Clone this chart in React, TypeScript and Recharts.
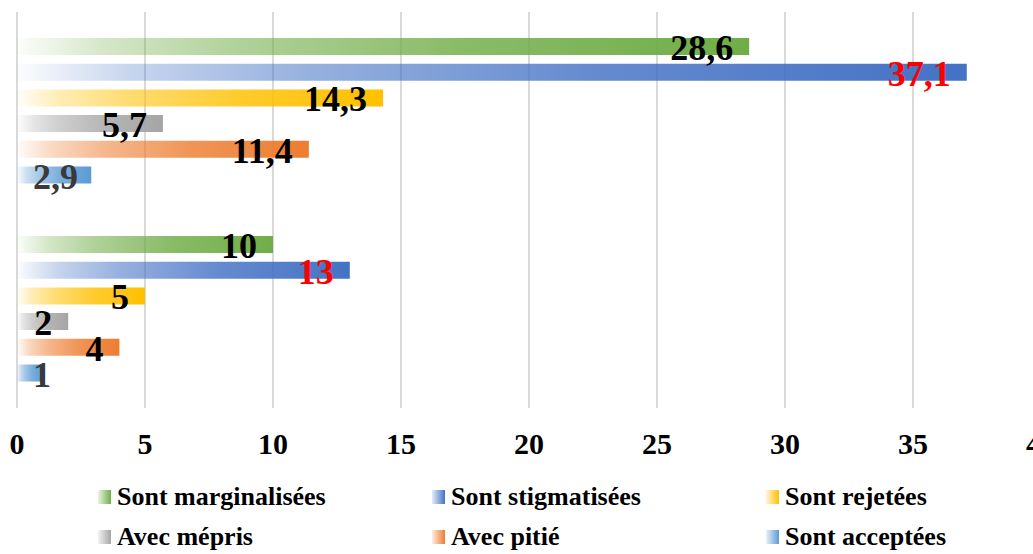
import React from 'react';
import { BarChart, Bar, XAxis, YAxis, CartesianGrid, LabelList } from 'recharts';

const categories = ['Pourcentage', 'Effectif'];
const marginalisees = [28.6, 10];
const stigmatisees = [37.1, 13];
const rejetees = [14.3, 5];
const mepris = [5.7, 2];
const pitie = [11.4, 4];
const acceptees = [2.9, 1];
const xTicks = [0, 5, 10, 15, 20, 25, 30, 35, 40];

const FONT = '"Liberation Serif", "Times New Roman", serif';

const series = [
  { key: 'marg', name: 'Sont marginalisées', values: marginalisees, color: '#70AD47', labelColor: '#000000' },
  { key: 'stig', name: 'Sont stigmatisées', values: stigmatisees, color: '#4472C4', labelColor: '#FF0000' },
  { key: 'rej', name: 'Sont rejetées', values: rejetees, color: '#FFC000', labelColor: '#000000' },
  { key: 'mep', name: 'Avec mépris', values: mepris, color: '#A5A5A5', labelColor: '#000000' },
  { key: 'pit', name: 'Avec pitié', values: pitie, color: '#ED7D31', labelColor: '#000000' },
  { key: 'acc', name: 'Sont acceptées', values: acceptees, color: '#5B9BD5', labelColor: '#3a3a3a' },
];

const data = categories.map((name, i) => {
  const row: Record<string, string | number> = { name };
  series.forEach((s) => {
    row[s.key] = s.values[i];
  });
  return row;
});

const fmt = (v: number) => String(v).replace('.', ',');

// rough width of Times bold digits/comma at 36px
const textWidth = (s: string) => s.split('').reduce((w, c) => w + (c === ',' ? 9 : 18), 0);

const makeLabel = (color: string) => (props: any) => {
  const vb = props.viewBox || props;
  const x = Number(vb.x ?? props.x);
  const y = Number(vb.y ?? props.y);
  const width = Number(vb.width ?? props.width);
  const height = Number(vb.height ?? props.height);
  const txt = fmt(Number(props.value));
  const right = Math.max(x + width - 16, x + 16 + textWidth(txt));
  return (
    <text
      x={right}
      y={y + height / 2 + 13.5}
      textAnchor="end"
      fill={color}
      fontFamily={FONT}
      fontWeight="bold"
      fontSize={36}
    >
      {txt}
    </text>
  );
};

const XTick = (props: any) => {
  const { x, y, payload } = props;
  return (
    <text x={x} y={y + 46} textAnchor="middle" fill="#000" fontFamily={FONT} fontWeight="bold" fontSize={30}>
      {payload.value}
    </text>
  );
};

const legendCols = [98, 432, 766];
const legendRows = [482, 522];

const App = () => {
  return (
    <div style={{ position: 'absolute', left: 0, top: 0, width: 1033, height: 554, overflow: 'hidden', background: '#fff' }}>
      <BarChart
        width={1070}
        height={554}
        data={data}
        layout="vertical"
        barSize={17}
        barGap={8.7}
        margin={{ top: 12, right: 29, left: 17, bottom: 0 }}
      >
        <defs>
          {series.map((s) => (
            <linearGradient key={s.key} id={`grad-${s.key}`} x1="0" y1="0" x2="1" y2="0">
              <stop offset="0%" stopColor={s.color} stopOpacity={0.02} />
              <stop offset="12%" stopColor={s.color} stopOpacity={0.3} />
              <stop offset="30%" stopColor={s.color} stopOpacity={0.55} />
              <stop offset="60%" stopColor={s.color} stopOpacity={0.82} />
              <stop offset="100%" stopColor={s.color} stopOpacity={1} />
            </linearGradient>
          ))}
        </defs>
        <CartesianGrid horizontal={false} stroke="#D9D9D9" strokeWidth={2} />
        <XAxis
          type="number"
          domain={[0, 40]}
          ticks={xTicks}
          interval={0}
          axisLine={false}
          tickLine={false}
          tickSize={0}
          tickMargin={0}
          height={146}
          tick={<XTick />}
        />
        <YAxis type="category" dataKey="name" hide />
        {series.map((s) => (
          <Bar key={s.key} dataKey={s.key} name={s.name} fill={`url(#grad-${s.key})`} isAnimationActive={false}>
            <LabelList dataKey={s.key} content={makeLabel(s.labelColor)} />
          </Bar>
        ))}
      </BarChart>
      {series.map((s, i) => (
        <div
          key={s.key}
          style={{
            position: 'absolute',
            left: legendCols[i % 3],
            top: legendRows[Math.floor(i / 3)],
            display: 'flex',
            alignItems: 'center',
            height: 30,
            lineHeight: '30px',
            fontFamily: FONT,
            fontWeight: 'bold',
            fontSize: 26,
            color: '#000',
            whiteSpace: 'nowrap',
          }}
        >
          <span
            style={{
              display: 'inline-block',
              width: 13,
              height: 14,
              marginRight: 6,
              background: `linear-gradient(to right, ${s.color}22, ${s.color})`,
            }}
          />
          {s.name}
        </div>
      ))}
    </div>
  );
};

export default App;
